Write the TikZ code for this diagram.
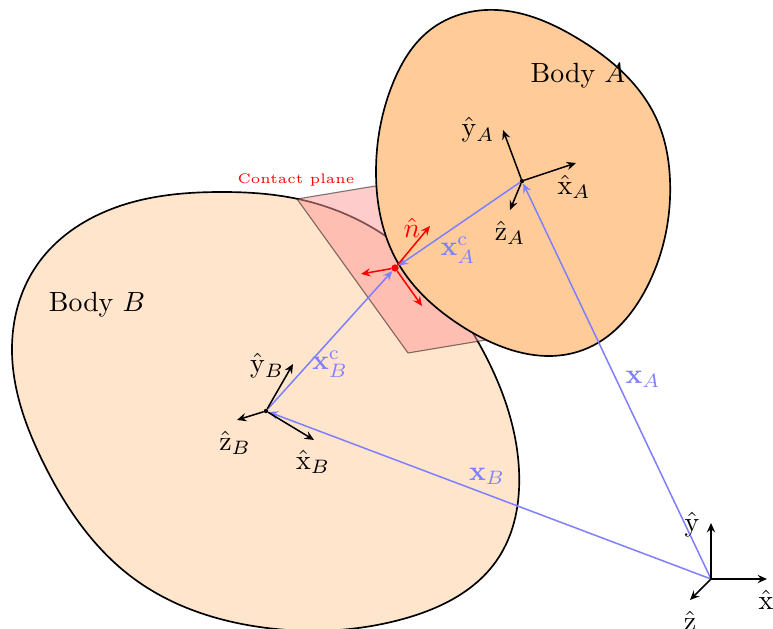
\documentclass[tikz,border=0pt]{standalone}
\usepackage{amsmath,amssymb}
\usepackage{xcolor}
\usetikzlibrary{arrows.meta,positioning,calc,hobby}
\definecolor{bodyb}{RGB}{255,229,204}
\definecolor{bodya}{RGB}{255,204,153}
\definecolor{vecblue}{RGB}{128,128,255}
\tikzset{
    every picture/.style={line cap=round,line join=round},
    bodyline/.style={draw=black,line width=0.6pt,use Hobby shortcut,closed=true},
    planeface/.style={fill=red!40,draw=black,opacity=0.5,line width=0.4pt},
    axisarrow/.style={-{Stealth[length=3.4pt,width=3pt,inset=1.2pt]},draw=black,line width=0.55pt},
    normalarrow/.style={axisarrow,draw=red,color=red},
    vecarrow/.style={-{Stealth[length=3.4pt,width=3pt,inset=1.2pt]},draw=vecblue,color=vecblue,line width=0.55pt},
    veclabel/.style={text=vecblue,inner sep=1pt},
    framelabel/.style={inner sep=1pt},
    origindot/.style={circle,fill=black,inner sep=0pt,minimum size=1.6pt},
    contactdot/.style={circle,fill=red,inner sep=0pt,minimum size=2.6pt}
}
\begin{document}
\begin{tikzpicture}[x=0.36pt,y=-0.36pt]
  \useasboundingbox (0,0) rectangle (773,629);
  % bodies and the plane between them
  \path[bodyline,fill=bodyb] (298,199) .. (220,192) .. (133,202) .. (37,265) .. (12,352) .. (43,462)
    .. (133,578) .. (267,628) .. (403,619) .. (497,560) .. (519,470) .. (477,340) .. (387,237);
  \path[planeface] (297,199) -- (460,172) -- (570,326) -- (408,353) -- cycle;
  \path[bodyline,fill=bodya] (497,10) .. (577,38) .. (657,120) .. (670,180) .. (647,287) .. (583,350)
    .. (463,327) .. (398,263) .. (376,173) .. (393,83) .. (430,30);
  \node at (578,76) {Body $A$};
  \node at (97,305) {Body $B$};
  \node[text=red,font=\tiny] (planelabel) at (296,180) {Contact plane};
  % frame origins
  \node[inner sep=0pt,minimum size=0pt] (world) at (711,579) {};
  \node[origindot] (oa) at (522,181) {};
  \node[origindot] (ob) at (266,411) {};
  \node[contactdot] (pc) at (395,268) {};
  % position vectors
  \draw[vecarrow] (world.center) -- (oa);
  \draw[vecarrow] (world.center) -- (ob);
  \draw[vecarrow] (oa) -- (pc);
  \draw[vecarrow] (ob) -- (pc);
  \node[veclabel] at (643,379) {$\mathbf{x}_A$};
  \node[veclabel] at (487,476) {$\mathbf{x}_B$};
  \node[veclabel] at (458,250) {$\mathbf{x}^{\mathrm{c}}_A$};
  \node[veclabel] at (330,364) {$\mathbf{x}^{\mathrm{c}}_B$};
  % world axes
  \node[framelabel] (wx) at (766,600) {$\hat{\mathrm{x}}$};
  \node[framelabel] (wy) at (692,525) {$\hat{\mathrm{y}}$};
  \node[framelabel] (wz) at (690,621) {$\hat{\mathrm{z}}$};
  \coordinate (wxtip) at (767,579);
  \coordinate (wytip) at (711,523);
  \coordinate (wztip) at (690,600);
  \draw[axisarrow] (world.center) -- (wxtip);
  \draw[axisarrow] (world.center) -- (wytip);
  \draw[axisarrow] (world.center) -- (wztip);
  % body A axes
  \node[framelabel] at (574,187) {$\hat{\mathrm{x}}_A$};
  \node[framelabel] at (478,130) {$\hat{\mathrm{y}}_A$};
  \node[framelabel] at (510,233) {$\hat{\mathrm{z}}_A$};
  \coordinate (axtip) at (576,163);
  \coordinate (aytip) at (503,130);
  \coordinate (aztip) at (510,210);
  \draw[axisarrow] (oa) -- (axtip);
  \draw[axisarrow] (oa) -- (aytip);
  \draw[axisarrow] (oa) -- (aztip);
  % body B axes
  \node[framelabel] at (313,462) {$\hat{\mathrm{x}}_B$};
  \node[framelabel] at (267,366) {$\hat{\mathrm{y}}_B$};
  \node[framelabel] at (235,443) {$\hat{\mathrm{z}}_B$};
  \coordinate (bxtip) at (314,440);
  \coordinate (bytip) at (293,364);
  \coordinate (bztip) at (237,420);
  \draw[axisarrow] (ob) -- (bxtip);
  \draw[axisarrow] (ob) -- (bytip);
  \draw[axisarrow] (ob) -- (bztip);
  % contact frame
  \node[text=red,inner sep=1pt] at (412,228) {$\hat{n}$};
  \coordinate (cntip) at (430,226);
  \coordinate (cttip) at (361,274);
  \coordinate (cbtip) at (422,306);
  \draw[normalarrow] (pc) -- (cntip);
  \draw[normalarrow] (pc) -- (cttip);
  \draw[normalarrow] (pc) -- (cbtip);
\end{tikzpicture}
\end{document}
